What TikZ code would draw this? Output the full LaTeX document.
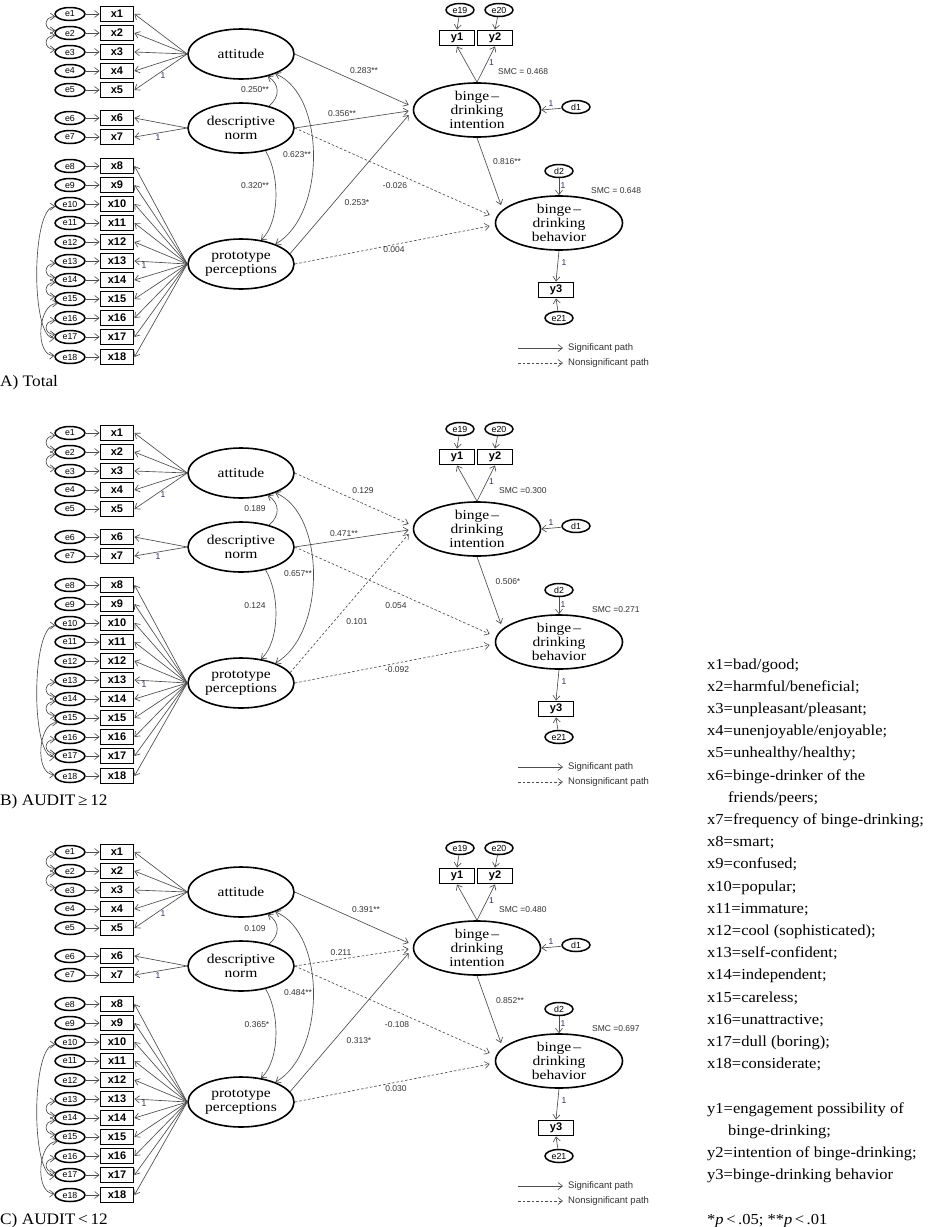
\documentclass[tikz,border=0pt]{standalone}
\usepackage{fontspec}
\setmainfont{Liberation Serif}
\setsansfont{Liberation Sans}
\newfontfamily\wideserif[FakeStretch=1.15]{Liberation Serif}
\newfontfamily\keyserif[FakeStretch=1.08]{Liberation Serif}
\usetikzlibrary{arrows.meta,shapes.geometric}
\definecolor{lncol}{HTML}{4D4D4D}
\definecolor{txcol}{HTML}{333333}
\definecolor{onecol}{HTML}{2E2E5C}
\tikzset{
 errn/.style={ellipse, draw=black, line width=1.5pt, minimum width=30pt, minimum height=13pt, inner sep=0pt, font=\sffamily\fontsize{8.8}{9}\selectfont},
 obsn/.style={rectangle, draw=black, line width=1.9pt, minimum width=33pt, minimum height=15pt, inner sep=0pt, font=\sffamily\bfseries\fontsize{11}{12}\selectfont},
 latn/.style={ellipse, draw=black, line width=1.6pt, minimum width=106pt, minimum height=50pt, inner sep=0pt, align=center, font=\wideserif\fontsize{13.5}{14}\selectfont},
 endo/.style={latn, minimum width=127pt, minimum height=54pt},
 pth/.style={draw=lncol, line width=0.65pt, -{Straight Barb[length=4.5pt,width=7pt]}},
 dpth/.style={pth, dash pattern=on 2.5pt off 2pt},
 cov/.style={draw=lncol, line width=0.65pt, {Straight Barb[length=4.5pt,width=7pt]}-{Straight Barb[length=4.5pt,width=7pt]}},
 coef/.style={font=\sffamily\fontsize{8.5}{10}\selectfont, text=txcol, inner sep=0pt},
 onel/.style={font=\sffamily\fontsize{8.5}{10}\selectfont, text=onecol, inner sep=0pt},
 legt/.style={font=\sffamily\fontsize{9.5}{11}\selectfont, text=txcol, inner sep=0pt, anchor=west},
 plab/.style={font=\keyserif\fontsize{16}{20}\selectfont, inner sep=0pt, anchor=base west},
 rtxt/.style={font=\keyserif\fontsize{15.3}{20}\selectfont, inner sep=0pt, anchor=base west},
}
\newcommand\semcore{%
 \foreach \i/\yy in {1/14,2/33,3/52,4/71,5/90,6/118,7/137,8/166,9/185,10/204,11/223,12/242,13/261,14/280,15/299,16/318,17/337,18/357}{%
   \node[errn] (e\i) at (70,\yy) {e\i};
   \node[obsn] (x\i) at (117,\yy) {x\i};
   \draw[pth] (e\i) -- (x\i);
 }%
 \node[latn] (att) at (241,54) {attitude};
 \node[latn] (dsc) at (241,128) {descriptive\\norm};
 \node[latn] (pro) at (241,264) {prototype\\perceptions};
 \foreach \i in {1,...,5} {\draw[pth] (att.west) -- (x\i.east);}
 \foreach \i in {6,7} {\draw[pth] (dsc.west) -- (x\i.east);}
 \foreach \i in {8,...,18} {\draw[pth] (pro.west) -- (x\i.east);}
 \draw[cov] (e1.190) .. controls +(-12,0) and +(-12,0) .. (e2.170);
 \draw[cov] (e2.190) .. controls +(-12,0) and +(-12,0) .. (e3.170);
 \draw[cov] (e13.190) .. controls +(-12,0) and +(-12,0) .. (e14.170);
 \draw[cov] (e14.190) .. controls +(-12,0) and +(-12,0) .. (e15.170);
 \draw[cov] (e16.190) .. controls +(-12,0) and +(-12,0) .. (e17.170);
 \draw[cov] (e15.200) .. controls +(-20,0) and +(-20,0) .. (e18.175);
 \draw[cov] (e10.190) .. controls +(-24,0) and +(-24,0) .. (e17.185);
 \draw[pth] (dsc.38) .. controls (280,97) and (280,84) .. (att.-40);
 \draw[cov] (att.-30) .. controls (326,95) and (326,215) .. (pro.30);
 \draw[pth] (dsc.-43) .. controls (280,175) and (280,222) .. (pro.50);
 \node[endo] (int) at (477,110) {binge\,–\\drinking\\intention};
 \node[endo] (beh) at (559,223) {binge\,–\\drinking\\behavior};
 \node[obsn, minimum width=35pt] (y1) at (457,38) {y1};
 \node[obsn, minimum width=35pt] (y2) at (495,38) {y2};
 \node[errn, minimum width=28pt] (e19) at (460,10) {e19};
 \node[errn, minimum width=28pt] (e20) at (499,10) {e20};
 \node[errn, minimum width=28pt] (d1) at (576,107) {d1};
 \node[errn, minimum width=28pt] (d2) at (559,171) {d2};
 \node[obsn, minimum width=35pt] (y3) at (556,290) {y3};
 \node[errn, minimum width=28pt] (e21) at (559,318) {e21};
 \draw[pth] (e19) -- (y1.north);
 \draw[pth] (e20) -- (y2.north);
 \draw[pth] (int.north) -- (y1.south);
 \draw[pth] (int.north) -- (y2.south);
 \draw[pth] (d1) -- (int.east);
 \draw[pth] (d2) -- (beh.north);
 \draw[pth] (beh.south) -- (y3.north);
 \draw[pth] (e21) -- (y3.south);
 \node[onel] (o1) at (163,76) {1};
 \node[onel] (o2) at (158,138) {1};
 \node[onel] (o3) at (144,266) {1};
 \node[onel] (o4) at (491.5,63) {1};
 \node[onel] (o5) at (551,104) {1};
 \node[onel] (o6) at (563,186) {1};
 \node[onel] (o7) at (564,263) {1};
 \coordinate (lg1) at (518,348); \coordinate (lg2) at (563,348);
 \coordinate (lg3) at (518,363); \coordinate (lg4) at (563,363);
 \draw[pth] (lg1) -- (lg2);
 \draw[dpth] (lg3) -- (lg4);
 \node[legt] (lt1) at (568,348) {Significant path};
 \node[legt] (lt2) at (568,363) {Nonsignificant path};
}
\begin{document}
\begin{tikzpicture}[x=1pt,y=-1pt]
\fill[white] (0,0) rectangle (927,1227);
\path[use as bounding box] (0,0) rectangle (927,1227);
% Panel A
\begin{scope}[name prefix=A-]
 \semcore
 \draw[pth] (att.east) -- ([shift={(-4,-5)}]int.west);
 \draw[pth] (dsc.east) -- ([shift={(-4,1)}]int.west);
 \draw[pth] (pro.12) -- ([shift={(-4,5)}]int.west);
 \draw[dpth] (dsc.east) -- ([shift={(-5,-8)}]beh.west);
 \draw[dpth] (pro.east) -- ([shift={(-5,3)}]beh.west);
 \draw[pth] (int.south) -- ([shift={(-58,-18)}]beh.center);
 \node[coef] (c1) at (364,71) {0.283**};
 \node[coef] (c2) at (342,114) {0.356**};
 \node[coef] (c3) at (357,203) {0.253*};
 \node[coef] (c4) at (395,186) {-0.026};
 \node[coef] (c5) at (394,250) {0.004};
 \node[coef] (c6) at (507,162) {0.816**};
 \node[coef] (c7) at (255,90) {0.250**};
 \node[coef] (c8) at (297,155) {0.623**};
 \node[coef] (c9) at (255,186) {0.320**};
 \node[coef, anchor=west] (s1) at (498,72) {SMC = 0.468};
 \node[coef, anchor=west] (s2) at (591,191) {SMC = 0.648};
 \node[plab] (lbl) at (0,386.5) {A) Total};
\end{scope}
% Panel B
\begin{scope}[shift={(0,419)}, name prefix=B-]
 \semcore
 \draw[dpth] (att.east) -- ([shift={(-4,-5)}]int.west);
 \draw[pth] (dsc.east) -- ([shift={(-4,1)}]int.west);
 \draw[dpth] (pro.12) -- ([shift={(-4,5)}]int.west);
 \draw[dpth] (dsc.east) -- ([shift={(-5,-8)}]beh.west);
 \draw[dpth] (pro.east) -- ([shift={(-5,3)}]beh.west);
 \draw[pth] (int.south) -- ([shift={(-58,-18)}]beh.center);
 \node[coef] (c1) at (363,72) {0.129};
 \node[coef] (c2) at (344,115) {0.471**};
 \node[coef] (c3) at (357,203) {0.101};
 \node[coef] (c4) at (396,187) {0.054};
 \node[coef] (c5) at (397,251) {-0.092};
 \node[coef] (c6) at (508,163) {0.506*};
 \node[coef] (c7) at (255,90) {0.189};
 \node[coef] (c8) at (298,155) {0.657**};
 \node[coef] (c9) at (255,187) {0.124};
 \node[coef, anchor=west] (s1) at (499,72) {SMC =0.300};
 \node[coef, anchor=west] (s2) at (592,191) {SMC =0.271};
 \node[plab] (lbl) at (0,386.5) {B) AUDIT\,≥\,12};
\end{scope}
% Panel C
\begin{scope}[shift={(0,838)}, name prefix=C-]
 \semcore
 \draw[pth] (att.east) -- ([shift={(-4,-5)}]int.west);
 \draw[dpth] (dsc.east) -- ([shift={(-4,1)}]int.west);
 \draw[pth] (pro.12) -- ([shift={(-4,5)}]int.west);
 \draw[dpth] (dsc.east) -- ([shift={(-5,-8)}]beh.west);
 \draw[dpth] (pro.east) -- ([shift={(-5,3)}]beh.west);
 \draw[pth] (int.south) -- ([shift={(-58,-18)}]beh.center);
 \node[coef] (c1) at (366,72) {0.391**};
 \node[coef] (c2) at (341,115) {0.211};
 \node[coef] (c3) at (359,203) {0.313*};
 \node[coef] (c4) at (397,187) {-0.108};
 \node[coef] (c5) at (396,251) {0.030};
 \node[coef] (c6) at (510,163) {0.852**};
 \node[coef] (c7) at (255,91) {0.109};
 \node[coef] (c8) at (298,155) {0.484**};
 \node[coef] (c9) at (257,187) {0.365*};
 \node[coef, anchor=west] (s1) at (499,72) {SMC =0.480};
 \node[coef, anchor=west] (s2) at (592,191) {SMC =0.697};
 \node[plab] (lbl) at (0,386.5) {C) AUDIT\,<\,12};
\end{scope}
% right-hand key
\node[rtxt] (r1) at (707,669) {x1=bad/good;};
\node[rtxt] (r2) at (707,691.2) {x2=harmful/beneficial;};
\node[rtxt] (r3) at (707,713.4) {x3=unpleasant/pleasant;};
\node[rtxt] (r4) at (707,735.6) {x4=unenjoyable/enjoyable;};
\node[rtxt] (r5) at (707,757.8) {x5=unhealthy/healthy;};
\node[rtxt] (r6) at (707,780) {x6=binge-drinker of the};
\node[rtxt] (r7) at (728,802.2) {friends/peers;};
\node[rtxt] (r8) at (707,824.4) {x7=frequency of binge-drinking;};
\node[rtxt] (r9) at (707,846.6) {x8=smart;};
\node[rtxt] (r10) at (707,868.8) {x9=confused;};
\node[rtxt] (r11) at (707,891) {x10=popular;};
\node[rtxt] (r12) at (707,913.2) {x11=immature;};
\node[rtxt] (r13) at (707,935.4) {x12=cool (sophisticated);};
\node[rtxt] (r14) at (707,957.6) {x13=self-confident;};
\node[rtxt] (r15) at (707,979.8) {x14=independent;};
\node[rtxt] (r16) at (707,1002) {x15=careless;};
\node[rtxt] (r17) at (707,1024.2) {x16=unattractive;};
\node[rtxt] (r18) at (707,1046.4) {x17=dull (boring);};
\node[rtxt] (r19) at (707,1068.6) {x18=considerate;};
\node[rtxt] (r20) at (707,1113) {y1=engagement possibility of};
\node[rtxt] (r21) at (728,1135.2) {binge-drinking;};
\node[rtxt] (r22) at (707,1157.4) {y2=intention of binge-drinking;};
\node[rtxt] (r23) at (707,1179.6) {y3=binge-drinking behavior};
\node[rtxt] (r24) at (707,1224.5) {*\textit{p}\,<\,.05; **\textit{p}\,<\,.01};
\end{tikzpicture}
\end{document}
